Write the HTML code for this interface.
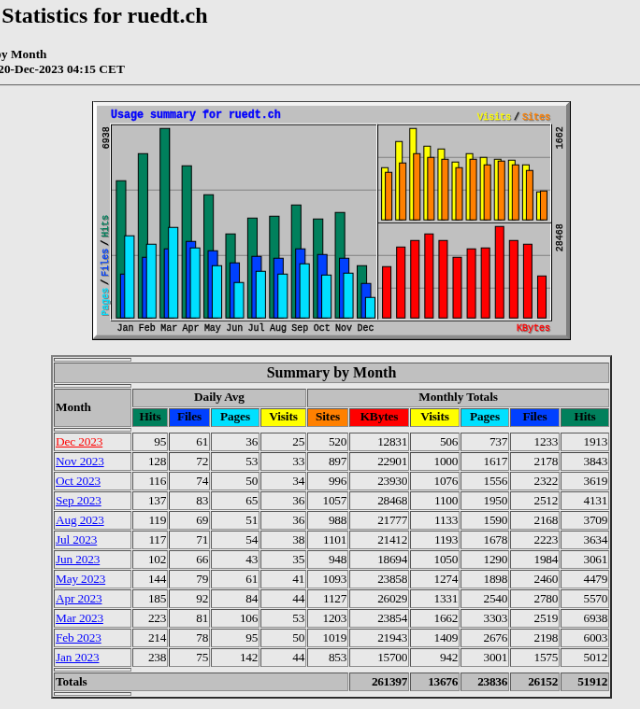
<!DOCTYPE html>
<html><head><meta charset="utf-8"><title>Usage Statistics for ruedt.ch - Summary by Month</title>
<style>
html,body{margin:0;padding:0;background:#e8e8e8;overflow:hidden}
body{width:640px;height:709px;position:relative;font-family:"Liberation Serif",serif;color:#000}
#pg{will-change:transform;position:absolute;left:0;top:0;width:856px;transform-origin:0 0;transform:translate(-68.72px,-23.07px) scale(0.935,0.9336);font-size:16px;line-height:normal}
#in{padding:8px}
h2{font-size:24px;font-weight:bold;margin:20px 0;height:27px;line-height:27px;font-family:"Liberation Serif",serif}
.sm{font-size:13.333px;font-weight:bold;line-height:16px;height:32px}
hr{border:0;border-top:1px solid #6a6a6a;border-bottom:1px solid #dcdcdc;margin:8px 0 8px 0;height:0;}
.c{text-align:center}
.c svg{margin:0 auto}
p{margin:16px 0}
table.t{margin:0 auto;border-collapse:separate;border-spacing:1px;border:2px outset #808080;font-size:16px;width:600px;table-layout:fixed}
table.t th,table.t td{border:1px solid;border-color:#585858 #8e8e8e #8e8e8e #585858;padding:1px;font-family:"Liberation Serif",serif}
th{font-weight:bold;text-align:center}
table.t th.h4{height:4px;box-sizing:border-box;padding:0;line-height:0;font-size:0}
.g{background:#c0c0c0}
.s{font-size:13.333px;line-height:16px}
table.t th.s{padding-top:0;padding-bottom:2px}
table.t th.s.tot{padding-top:1px;padding-bottom:1px}
.ttl{font-size:16px;line-height:18px}
.l{text-align:left}
.r{text-align:right;letter-spacing:-0.32px}
th.s{letter-spacing:-0.12px}
th.r.s{letter-spacing:-0.32px}
.nw{white-space:nowrap}
.a{text-decoration:underline;letter-spacing:-0.16px}
.u{color:#0000ff}
.v{color:#ff0000}
</style></head><body>
<div id="pg"><div id="in">
<h2>Usage Statistics for ruedt.ch</h2>
<div class="sm">Summary by Month<br>Generated 20-Dec-2023 04:15 CET<br></div>
<div class="c">
<hr>
<p></p>
<svg width="512" height="256" viewBox="0 0.25 512 256" style="display:block" >
<rect x="0" y="0" width="512" height="256" fill="#c0c0c0"/>
<rect x="0" y="0" width="512" height="256" fill="none" stroke="#000" stroke-width="2.8"/>
<path d="M1 1.5H511M1.5 1V255" stroke="#fff" fill="none"/>
<path d="M1 254.5H511M510.5 1V255" stroke="#808080" fill="none"/>
<path d="M2 2.5H510M2.5 2V254" stroke="#fff" fill="none"/>
<path d="M2 253.5H510M509.5 2V254" stroke="#808080" fill="none"/>
<path d="M3 3.5H509M3.5 3V253" stroke="#fff" fill="none"/>
<path d="M3 252.5H509M508.5 3V253" stroke="#808080" fill="none"/>
<path d="M4 4.5H508M4.5 4V252" stroke="#fff" fill="none"/>
<path d="M4 251.5H508M507.5 4V252" stroke="#808080" fill="none"/>
<rect x="20.5" y="25.5" width="471" height="210" fill="none" stroke="#000"/>
<rect x="19.5" y="24.5" width="471" height="210" fill="none" stroke="#fff"/>
<path d="M304.5 25V234M305 129.5H491" stroke="#fff" fill="none"/>
<path d="M305.5 25V234M305 130.5H491" stroke="#000" fill="none"/>
<path d="M21 95.5H304" stroke="#808080"/>
<path d="M21 165.5H304" stroke="#808080"/>
<path d="M306 60.5H490" stroke="#808080"/>
<path d="M306 165.5H490" stroke="#808080"/>
<path d="M306 95.5H490" stroke="#808080"/>
<path d="M306 200.5H490" stroke="#808080"/>
<rect x="25.9" y="85.5" width="10.100000000000001" height="147" fill="#00805c" stroke="#000"/>
<rect x="49.317" y="56.5" width="10.100000000000001" height="176" fill="#00805c" stroke="#000"/>
<rect x="72.73400000000001" y="29.5" width="10.099999999999994" height="203" fill="#00805c" stroke="#000"/>
<rect x="96.15100000000001" y="69.5" width="10.099999999999994" height="163" fill="#00805c" stroke="#000"/>
<rect x="119.56800000000001" y="100.5" width="10.099999999999994" height="132" fill="#00805c" stroke="#000"/>
<rect x="142.985" y="142.5" width="10.099999999999994" height="90" fill="#00805c" stroke="#000"/>
<rect x="166.40200000000002" y="125.5" width="10.099999999999994" height="107" fill="#00805c" stroke="#000"/>
<rect x="189.81900000000002" y="123.5" width="10.099999999999994" height="109" fill="#00805c" stroke="#000"/>
<rect x="213.23600000000002" y="111.5" width="10.099999999999994" height="121" fill="#00805c" stroke="#000"/>
<rect x="236.65300000000002" y="126.5" width="10.099999999999994" height="106" fill="#00805c" stroke="#000"/>
<rect x="260.07" y="119.5" width="10.100000000000023" height="113" fill="#00805c" stroke="#000"/>
<rect x="283.48699999999997" y="176.5" width="10.100000000000023" height="56" fill="#00805c" stroke="#000"/>
<rect x="30.349999999999998" y="185.5" width="10.099999999999998" height="47" fill="#0040ff" stroke="#000"/>
<rect x="53.766999999999996" y="167.5" width="10.100000000000001" height="65" fill="#0040ff" stroke="#000"/>
<rect x="77.184" y="158.5" width="10.099999999999994" height="74" fill="#0040ff" stroke="#000"/>
<rect x="100.601" y="150.5" width="10.099999999999994" height="82" fill="#0040ff" stroke="#000"/>
<rect x="124.018" y="160.5" width="10.099999999999994" height="72" fill="#0040ff" stroke="#000"/>
<rect x="147.435" y="173.5" width="10.099999999999994" height="59" fill="#0040ff" stroke="#000"/>
<rect x="170.852" y="166.5" width="10.099999999999994" height="66" fill="#0040ff" stroke="#000"/>
<rect x="194.269" y="168.5" width="10.099999999999994" height="64" fill="#0040ff" stroke="#000"/>
<rect x="217.686" y="158.5" width="10.099999999999994" height="74" fill="#0040ff" stroke="#000"/>
<rect x="241.103" y="164.5" width="10.099999999999994" height="68" fill="#0040ff" stroke="#000"/>
<rect x="264.52000000000004" y="168.5" width="10.100000000000023" height="64" fill="#0040ff" stroke="#000"/>
<rect x="287.937" y="195.5" width="10.100000000000023" height="37" fill="#0040ff" stroke="#000"/>
<rect x="34.8" y="144.5" width="10.100000000000001" height="88" fill="#00e0ff" stroke="#000"/>
<rect x="58.217" y="153.5" width="10.099999999999994" height="79" fill="#00e0ff" stroke="#000"/>
<rect x="81.634" y="135.5" width="10.099999999999994" height="97" fill="#00e0ff" stroke="#000"/>
<rect x="105.051" y="157.5" width="10.099999999999994" height="75" fill="#00e0ff" stroke="#000"/>
<rect x="128.46800000000002" y="176.5" width="10.100000000000009" height="56" fill="#00e0ff" stroke="#000"/>
<rect x="151.885" y="194.5" width="10.099999999999994" height="38" fill="#00e0ff" stroke="#000"/>
<rect x="175.30200000000002" y="182.5" width="10.099999999999994" height="50" fill="#00e0ff" stroke="#000"/>
<rect x="198.719" y="185.5" width="10.099999999999994" height="47" fill="#00e0ff" stroke="#000"/>
<rect x="222.13600000000002" y="174.5" width="10.099999999999994" height="58" fill="#00e0ff" stroke="#000"/>
<rect x="245.553" y="186.5" width="10.099999999999994" height="46" fill="#00e0ff" stroke="#000"/>
<rect x="268.97" y="184.5" width="10.100000000000023" height="48" fill="#00e0ff" stroke="#000"/>
<rect x="292.387" y="210.5" width="10.100000000000023" height="22" fill="#00e0ff" stroke="#000"/>
<rect x="309.6" y="71.5" width="7.0" height="56" fill="#ffff00" stroke="#000"/>
<rect x="324.68" y="43.5" width="7.0" height="84" fill="#ffff00" stroke="#000"/>
<rect x="339.76000000000005" y="29.5" width="7.0" height="98" fill="#ffff00" stroke="#000"/>
<rect x="354.84000000000003" y="48.5" width="7.0" height="79" fill="#ffff00" stroke="#000"/>
<rect x="369.92" y="51.5" width="7.0" height="76" fill="#ffff00" stroke="#000"/>
<rect x="385.0" y="65.5" width="7.0" height="62" fill="#ffff00" stroke="#000"/>
<rect x="400.08000000000004" y="56.5" width="7.0" height="71" fill="#ffff00" stroke="#000"/>
<rect x="415.16" y="60.5" width="7.0" height="67" fill="#ffff00" stroke="#000"/>
<rect x="430.24" y="62.5" width="7.0" height="65" fill="#ffff00" stroke="#000"/>
<rect x="445.32000000000005" y="63.5" width="7.0" height="64" fill="#ffff00" stroke="#000"/>
<rect x="460.40000000000003" y="68.5" width="7.0" height="59" fill="#ffff00" stroke="#000"/>
<rect x="475.48" y="97.5" width="7.0" height="30" fill="#ffff00" stroke="#000"/>
<rect x="313.6" y="76.5" width="7.0" height="51" fill="#ff8000" stroke="#000"/>
<rect x="328.68" y="66.5" width="7.0" height="61" fill="#ff8000" stroke="#000"/>
<rect x="343.76000000000005" y="56.5" width="7.0" height="71" fill="#ff8000" stroke="#000"/>
<rect x="358.84000000000003" y="60.5" width="7.0" height="67" fill="#ff8000" stroke="#000"/>
<rect x="373.92" y="62.5" width="7.0" height="65" fill="#ff8000" stroke="#000"/>
<rect x="389.0" y="71.5" width="7.0" height="56" fill="#ff8000" stroke="#000"/>
<rect x="404.08000000000004" y="62.5" width="7.0" height="65" fill="#ff8000" stroke="#000"/>
<rect x="419.16" y="68.5" width="7.0" height="59" fill="#ff8000" stroke="#000"/>
<rect x="434.24" y="64.5" width="7.0" height="63" fill="#ff8000" stroke="#000"/>
<rect x="449.32000000000005" y="68.5" width="7.0" height="59" fill="#ff8000" stroke="#000"/>
<rect x="464.40000000000003" y="74.5" width="7.0" height="53" fill="#ff8000" stroke="#000"/>
<rect x="479.48" y="96.5" width="7.0" height="31" fill="#ff8000" stroke="#000"/>
<rect x="310.6" y="177.5" width="9.0" height="55" fill="#ff0000" stroke="#000"/>
<rect x="325.68" y="156.5" width="9.0" height="76" fill="#ff0000" stroke="#000"/>
<rect x="340.76000000000005" y="149.5" width="9.0" height="83" fill="#ff0000" stroke="#000"/>
<rect x="355.84000000000003" y="142.5" width="9.0" height="90" fill="#ff0000" stroke="#000"/>
<rect x="370.92" y="149.5" width="9.0" height="83" fill="#ff0000" stroke="#000"/>
<rect x="386.0" y="167.5" width="9.0" height="65" fill="#ff0000" stroke="#000"/>
<rect x="401.08000000000004" y="158.5" width="9.0" height="74" fill="#ff0000" stroke="#000"/>
<rect x="416.16" y="157.5" width="9.0" height="75" fill="#ff0000" stroke="#000"/>
<rect x="431.24" y="134.5" width="9.0" height="98" fill="#ff0000" stroke="#000"/>
<rect x="446.32000000000005" y="149.5" width="9.0" height="83" fill="#ff0000" stroke="#000"/>
<rect x="461.40000000000003" y="153.5" width="9.0" height="79" fill="#ff0000" stroke="#000"/>
<rect x="476.48" y="187.5" width="9.0" height="45" fill="#ff0000" stroke="#000"/>
<text transform="translate(20,18.4) scale(0.9409,1)" fill="#0000ff" stroke="#0000ff" stroke-width="0.35" font-family="Liberation Mono" font-size="12.4" font-weight="bold" xml:space="preserve">Usage summary for ruedt.ch</text>
<text transform="translate(26.4,246.5) scale(0.8569,1)" fill="#000" stroke="#000" stroke-width="0.35" font-family="Liberation Mono" font-size="11.67" font-weight="normal" xml:space="preserve">Jan</text>
<text transform="translate(49.769999999999996,246.5) scale(0.8569,1)" fill="#000" stroke="#000" stroke-width="0.35" font-family="Liberation Mono" font-size="11.67" font-weight="normal" xml:space="preserve">Feb</text>
<text transform="translate(73.14,246.5) scale(0.8569,1)" fill="#000" stroke="#000" stroke-width="0.35" font-family="Liberation Mono" font-size="11.67" font-weight="normal" xml:space="preserve">Mar</text>
<text transform="translate(96.50999999999999,246.5) scale(0.8569,1)" fill="#000" stroke="#000" stroke-width="0.35" font-family="Liberation Mono" font-size="11.67" font-weight="normal" xml:space="preserve">Apr</text>
<text transform="translate(119.88,246.5) scale(0.8569,1)" fill="#000" stroke="#000" stroke-width="0.35" font-family="Liberation Mono" font-size="11.67" font-weight="normal" xml:space="preserve">May</text>
<text transform="translate(143.25,246.5) scale(0.8569,1)" fill="#000" stroke="#000" stroke-width="0.35" font-family="Liberation Mono" font-size="11.67" font-weight="normal" xml:space="preserve">Jun</text>
<text transform="translate(166.62,246.5) scale(0.8569,1)" fill="#000" stroke="#000" stroke-width="0.35" font-family="Liberation Mono" font-size="11.67" font-weight="normal" xml:space="preserve">Jul</text>
<text transform="translate(189.99,246.5) scale(0.8569,1)" fill="#000" stroke="#000" stroke-width="0.35" font-family="Liberation Mono" font-size="11.67" font-weight="normal" xml:space="preserve">Aug</text>
<text transform="translate(213.36,246.5) scale(0.8569,1)" fill="#000" stroke="#000" stroke-width="0.35" font-family="Liberation Mono" font-size="11.67" font-weight="normal" xml:space="preserve">Sep</text>
<text transform="translate(236.73000000000002,246.5) scale(0.8569,1)" fill="#000" stroke="#000" stroke-width="0.35" font-family="Liberation Mono" font-size="11.67" font-weight="normal" xml:space="preserve">Oct</text>
<text transform="translate(260.1,246.5) scale(0.8569,1)" fill="#000" stroke="#000" stroke-width="0.35" font-family="Liberation Mono" font-size="11.67" font-weight="normal" xml:space="preserve">Nov</text>
<text transform="translate(283.46999999999997,246.5) scale(0.8569,1)" fill="#000" stroke="#000" stroke-width="0.35" font-family="Liberation Mono" font-size="11.67" font-weight="normal" xml:space="preserve">Dec</text>
<text transform="translate(18,51.5) rotate(-90) scale(0.8569,1)" fill="#000" stroke="#000" stroke-width="0.35" font-family="Liberation Mono" font-size="11.67" font-weight="normal" xml:space="preserve">6938</text>
<text transform="translate(503,51.5) rotate(-90) scale(0.8569,1)" fill="#000" stroke="#000" stroke-width="0.35" font-family="Liberation Mono" font-size="11.67" font-weight="normal" xml:space="preserve">1662</text>
<text transform="translate(503,161.5) rotate(-90) scale(0.8569,1)" fill="#000" stroke="#000" stroke-width="0.35" font-family="Liberation Mono" font-size="11.67" font-weight="normal" xml:space="preserve">28468</text>
<text transform="translate(455,247.5) scale(0.8569,1)" fill="#808080" stroke="#808080" stroke-width="0.35" font-family="Liberation Mono" font-size="11.67" font-weight="normal" xml:space="preserve">KBytes</text>
<text transform="translate(454,246.5) scale(0.8569,1)" fill="#ff0000" stroke="#ff0000" stroke-width="0.35" font-family="Liberation Mono" font-size="11.67" font-weight="normal" xml:space="preserve">KBytes</text>
<text transform="translate(413,21) scale(0.8569,1)" fill="#808080" stroke="#808080" stroke-width="0.35" font-family="Liberation Mono" font-size="11.67" font-weight="normal" xml:space="preserve">Visits</text>
<text transform="translate(412,20) scale(0.8569,1)" fill="#ffff00" stroke="#ffff00" stroke-width="0.35" font-family="Liberation Mono" font-size="11.67" font-weight="normal" xml:space="preserve">Visits</text>
<text transform="translate(452,21) scale(0.8569,1)" fill="#808080" stroke="#808080" stroke-width="0.35" font-family="Liberation Mono" font-size="11.67" font-weight="normal" xml:space="preserve">/</text>
<text transform="translate(451,20) scale(0.8569,1)" fill="#000" stroke="#000" stroke-width="0.35" font-family="Liberation Mono" font-size="11.67" font-weight="normal" xml:space="preserve">/</text>
<text transform="translate(461,21) scale(0.8569,1)" fill="#808080" stroke="#808080" stroke-width="0.35" font-family="Liberation Mono" font-size="11.67" font-weight="normal" xml:space="preserve">Sites</text>
<text transform="translate(460,20) scale(0.8569,1)" fill="#ff8000" stroke="#ff8000" stroke-width="0.35" font-family="Liberation Mono" font-size="11.67" font-weight="normal" xml:space="preserve">Sites</text>
<text transform="translate(18,231) rotate(-90) scale(0.8569,1)" fill="#808080" stroke="#808080" stroke-width="0.35" font-family="Liberation Mono" font-size="11.67" font-weight="normal" xml:space="preserve">Pages</text>
<text transform="translate(17,230) rotate(-90) scale(0.8569,1)" fill="#00e0ff" stroke="#00e0ff" stroke-width="0.35" font-family="Liberation Mono" font-size="11.67" font-weight="normal" xml:space="preserve">Pages</text>
<text transform="translate(18,198) rotate(-90) scale(0.8569,1)" fill="#808080" stroke="#808080" stroke-width="0.35" font-family="Liberation Mono" font-size="11.67" font-weight="normal" xml:space="preserve">/</text>
<text transform="translate(17,197) rotate(-90) scale(0.8569,1)" fill="#000" stroke="#000" stroke-width="0.35" font-family="Liberation Mono" font-size="11.67" font-weight="normal" xml:space="preserve">/</text>
<text transform="translate(18,189) rotate(-90) scale(0.8569,1)" fill="#808080" stroke="#808080" stroke-width="0.35" font-family="Liberation Mono" font-size="11.67" font-weight="normal" xml:space="preserve">Files</text>
<text transform="translate(17,188) rotate(-90) scale(0.8569,1)" fill="#0040ff" stroke="#0040ff" stroke-width="0.35" font-family="Liberation Mono" font-size="11.67" font-weight="normal" xml:space="preserve">Files</text>
<text transform="translate(18,156) rotate(-90) scale(0.8569,1)" fill="#808080" stroke="#808080" stroke-width="0.35" font-family="Liberation Mono" font-size="11.67" font-weight="normal" xml:space="preserve">/</text>
<text transform="translate(17,155) rotate(-90) scale(0.8569,1)" fill="#000" stroke="#000" stroke-width="0.35" font-family="Liberation Mono" font-size="11.67" font-weight="normal" xml:space="preserve">/</text>
<text transform="translate(18,147) rotate(-90) scale(0.8569,1)" fill="#808080" stroke="#808080" stroke-width="0.35" font-family="Liberation Mono" font-size="11.67" font-weight="normal" xml:space="preserve">Hits</text>
<text transform="translate(17,146) rotate(-90) scale(0.8569,1)" fill="#00805c" stroke="#00805c" stroke-width="0.35" font-family="Liberation Mono" font-size="11.67" font-weight="normal" xml:space="preserve">Hits</text>
</svg>
<p></p>
<table class="t" width="600" border="2" cellspacing="1" cellpadding="1">
<colgroup><col style="width:83px"><col style="width:38px"><col style="width:44px"><col style="width:52px"><col style="width:49px"><col style="width:44px"><col style="width:64px"><col style="width:53px"><col style="width:52px"><col style="width:53px"><col style="width:52px"></colgroup>
<tr><th class="h4"></th></tr>
<tr><th colspan="11" class="g ttl">Summary by Month</th></tr>
<tr><th class="h4"></th></tr>
<tr><th class="g l s" rowspan="2">Month</th><th class="g s" colspan="4">Daily Avg</th><th class="g s" colspan="6">Monthly Totals</th></tr>
<tr><th class="s" style="background:#00805c">Hits</th><th class="s" style="background:#0040ff">Files</th><th class="s" style="background:#00e0ff">Pages</th><th class="s" style="background:#ffff00">Visits</th><th class="s" style="background:#ff8000">Sites</th><th class="s" style="background:#ff0000">KBytes</th><th class="s" style="background:#ffff00">Visits</th><th class="s" style="background:#00e0ff">Pages</th><th class="s" style="background:#0040ff">Files</th><th class="s" style="background:#00805c">Hits</th></tr>
<tr><th class="h4"></th></tr>
<tr><td class="s l nw"><span class="a v">Dec 2023</span></td><td class="s r">95</td><td class="s r">61</td><td class="s r">36</td><td class="s r">25</td><td class="s r">520</td><td class="s r">12831</td><td class="s r">506</td><td class="s r">737</td><td class="s r">1233</td><td class="s r">1913</td></tr>
<tr><td class="s l nw"><span class="a u">Nov 2023</span></td><td class="s r">128</td><td class="s r">72</td><td class="s r">53</td><td class="s r">33</td><td class="s r">897</td><td class="s r">22901</td><td class="s r">1000</td><td class="s r">1617</td><td class="s r">2178</td><td class="s r">3843</td></tr>
<tr><td class="s l nw"><span class="a u">Oct 2023</span></td><td class="s r">116</td><td class="s r">74</td><td class="s r">50</td><td class="s r">34</td><td class="s r">996</td><td class="s r">23930</td><td class="s r">1076</td><td class="s r">1556</td><td class="s r">2322</td><td class="s r">3619</td></tr>
<tr><td class="s l nw"><span class="a u">Sep 2023</span></td><td class="s r">137</td><td class="s r">83</td><td class="s r">65</td><td class="s r">36</td><td class="s r">1057</td><td class="s r">28468</td><td class="s r">1100</td><td class="s r">1950</td><td class="s r">2512</td><td class="s r">4131</td></tr>
<tr><td class="s l nw"><span class="a u">Aug 2023</span></td><td class="s r">119</td><td class="s r">69</td><td class="s r">51</td><td class="s r">36</td><td class="s r">988</td><td class="s r">21777</td><td class="s r">1133</td><td class="s r">1590</td><td class="s r">2168</td><td class="s r">3709</td></tr>
<tr><td class="s l nw"><span class="a u">Jul 2023</span></td><td class="s r">117</td><td class="s r">71</td><td class="s r">54</td><td class="s r">38</td><td class="s r">1101</td><td class="s r">21412</td><td class="s r">1193</td><td class="s r">1678</td><td class="s r">2223</td><td class="s r">3634</td></tr>
<tr><td class="s l nw"><span class="a u">Jun 2023</span></td><td class="s r">102</td><td class="s r">66</td><td class="s r">43</td><td class="s r">35</td><td class="s r">948</td><td class="s r">18694</td><td class="s r">1050</td><td class="s r">1290</td><td class="s r">1984</td><td class="s r">3061</td></tr>
<tr><td class="s l nw"><span class="a u">May 2023</span></td><td class="s r">144</td><td class="s r">79</td><td class="s r">61</td><td class="s r">41</td><td class="s r">1093</td><td class="s r">23858</td><td class="s r">1274</td><td class="s r">1898</td><td class="s r">2460</td><td class="s r">4479</td></tr>
<tr><td class="s l nw"><span class="a u">Apr 2023</span></td><td class="s r">185</td><td class="s r">92</td><td class="s r">84</td><td class="s r">44</td><td class="s r">1127</td><td class="s r">26029</td><td class="s r">1331</td><td class="s r">2540</td><td class="s r">2780</td><td class="s r">5570</td></tr>
<tr><td class="s l nw"><span class="a u">Mar 2023</span></td><td class="s r">223</td><td class="s r">81</td><td class="s r">106</td><td class="s r">53</td><td class="s r">1203</td><td class="s r">23854</td><td class="s r">1662</td><td class="s r">3303</td><td class="s r">2519</td><td class="s r">6938</td></tr>
<tr><td class="s l nw"><span class="a u">Feb 2023</span></td><td class="s r">214</td><td class="s r">78</td><td class="s r">95</td><td class="s r">50</td><td class="s r">1019</td><td class="s r">21943</td><td class="s r">1409</td><td class="s r">2676</td><td class="s r">2198</td><td class="s r">6003</td></tr>
<tr><td class="s l nw"><span class="a u">Jan 2023</span></td><td class="s r">238</td><td class="s r">75</td><td class="s r">142</td><td class="s r">44</td><td class="s r">853</td><td class="s r">15700</td><td class="s r">942</td><td class="s r">3001</td><td class="s r">1575</td><td class="s r">5012</td></tr>
<tr><th class="h4"></th></tr>
<tr><th class="g l s tot" colspan="6">Totals</th><th class="g r s tot">261397</th><th class="g r s tot">13676</th><th class="g r s tot">23836</th><th class="g r s tot">26152</th><th class="g r s tot">51912</th></tr>
<tr><th class="h4"></th></tr>
</table>
</div>
</div></div>
</body></html>
